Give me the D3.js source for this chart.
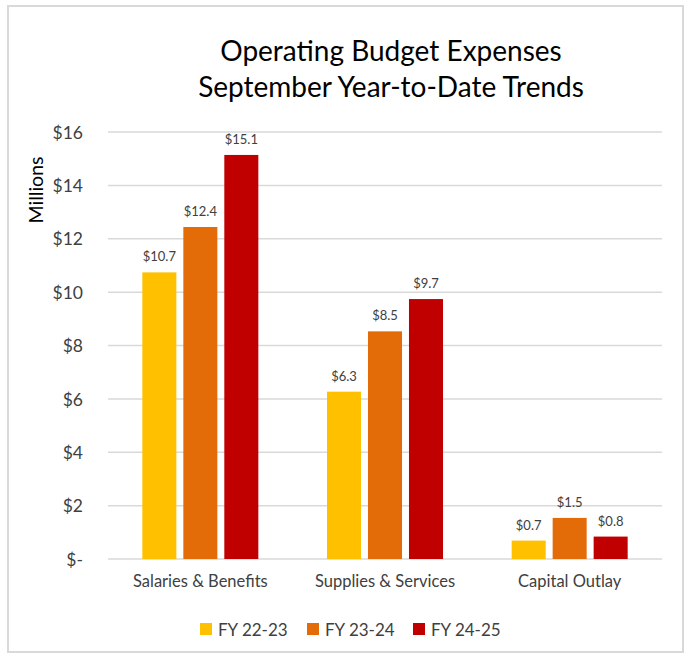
<!DOCTYPE html>
<html>
<head>
<meta charset="utf-8">
<script src="https://cdn.jsdelivr.net/npm/d3@7"></script>
<style>
  body { margin: 0; background: #fff; }
  text { font-family: Lato, "Open Sans", sans-serif; }
</style>
</head>
<body>
<script>
// chart data
var categories = ["Salaries & Benefits", "Supplies & Services", "Capital Outlay"];
var seriesNames = ["FY 22-23", "FY 23-24", "FY 24-25"];
var fy2223 = [10.74, 6.27, 0.69];
var fy2324 = [12.44, 8.53, 1.54];
var fy2425 = [15.14, 9.74, 0.84];
var yTicks = [0, 2, 4, 6, 8, 10, 12, 14, 16];
var colors = ["#FFC000", "#E36C09", "#C00000"];

var seriesValues = [fy2223, fy2324, fy2425];

var W = 691, H = 658;
var margin = {top: 132, right: 29, bottom: 99, left: 108},
    width = W - margin.left - margin.right,
    height = H - margin.top - margin.bottom;

var svg = d3.select("body").append("svg")
    .attr("width", W)
    .attr("height", H);

// outer border
svg.append("rect")
    .attr("x", 8).attr("y", 6)
    .attr("width", 675).attr("height", 646)
    .attr("fill", "none")
    .attr("stroke", "#d9d9d9")
    .attr("stroke-width", 2);

// title
var title = svg.append("text")
    .attr("text-anchor", "middle")
    .attr("font-size", 28)
    .attr("fill", "#000");
title.append("tspan").attr("x", 391).attr("y", 61).text("Operating Budget Expenses");
title.append("tspan").attr("x", 391).attr("y", 97).text("September Year-to-Date Trends");

var g = svg.append("g")
    .attr("transform", "translate(" + margin.left + "," + margin.top + ")");

var x0 = d3.scaleBand().domain(categories).range([0, width]);
var x1 = d3.scaleBand().domain(seriesNames)
    .range([x0.bandwidth() / 2 - 58, x0.bandwidth() / 2 + 58])
    .paddingInner(0.17);
var y = d3.scaleLinear().domain([0, 16]).range([height, 0]);

// gridlines
g.append("g")
    .selectAll("line")
    .data(yTicks)
    .enter().append("line")
    .attr("x1", 0).attr("x2", width)
    .attr("y1", function (d) { return y(d); })
    .attr("y2", function (d) { return y(d); })
    .attr("stroke", "#d9d9d9")
    .attr("stroke-width", 1.5);

// y axis
var yAxis = g.append("g")
    .attr("transform", "translate(-22,0)")
    .call(d3.axisLeft(y).tickValues(yTicks).tickSize(0)
        .tickFormat(function (d) { return d === 0 ? "$-" : "$" + d; }));
yAxis.select(".domain").remove();
yAxis.selectAll("text")
    .attr("font-size", 17.5)
    .attr("fill", "#404040")
    .attr("dy", "0.35em");

// y label
svg.append("text")
    .attr("transform", "translate(43,190) rotate(-90)")
    .attr("text-anchor", "middle")
    .attr("font-size", 19.5)
    .attr("fill", "#000")
    .text("Millions");

// bars
var groups = g.selectAll(".grp")
    .data(categories)
    .enter().append("g")
    .attr("class", "grp")
    .attr("transform", function (d) { return "translate(" + x0(d) + ",0)"; });

groups.selectAll("rect")
    .data(function (d, i) {
        return seriesNames.map(function (s, j) {
            return {series: s, value: seriesValues[j][i], color: colors[j]};
        });
    })
    .enter().append("rect")
    .attr("x", function (d) { return x1(d.series); })
    .attr("width", x1.bandwidth())
    .attr("y", function (d) { return y(d.value); })
    .attr("height", function (d) { return height - y(d.value); })
    .attr("fill", function (d) { return d.color; });

groups.selectAll(".lbl")
    .data(function (d, i) {
        return seriesNames.map(function (s, j) {
            return {series: s, value: seriesValues[j][i]};
        });
    })
    .enter().append("text")
    .attr("class", "lbl")
    .attr("x", function (d) { return x1(d.series) + x1.bandwidth() / 2; })
    .attr("y", function (d) { return y(d.value) - 11; })
    .attr("text-anchor", "middle")
    .attr("font-size", 13)
    .attr("fill", "#404040")
    .text(function (d) { return "$" + d.value.toFixed(1); });

// category labels
g.append("g")
    .attr("transform", "translate(0," + height + ")")
    .selectAll("text")
    .data(categories)
    .enter().append("text")
    .attr("x", function (d) { return x0(d) + x0.bandwidth() / 2; })
    .attr("y", 28)
    .attr("text-anchor", "middle")
    .attr("font-size", 16.5)
    .attr("fill", "#404040")
    .text(function (d) { return d; });

// legend
var legend = svg.append("g");
var lx = [200, 307, 413];
seriesNames.forEach(function (s, i) {
    legend.append("rect")
        .attr("x", lx[i]).attr("y", 623)
        .attr("width", 12).attr("height", 12)
        .attr("fill", colors[i]);
    legend.append("text")
        .attr("x", lx[i] + 18).attr("y", 636)
        .attr("font-size", 17)
        .attr("fill", "#404040")
        .text(s);
});
</script>
</body>
</html>
